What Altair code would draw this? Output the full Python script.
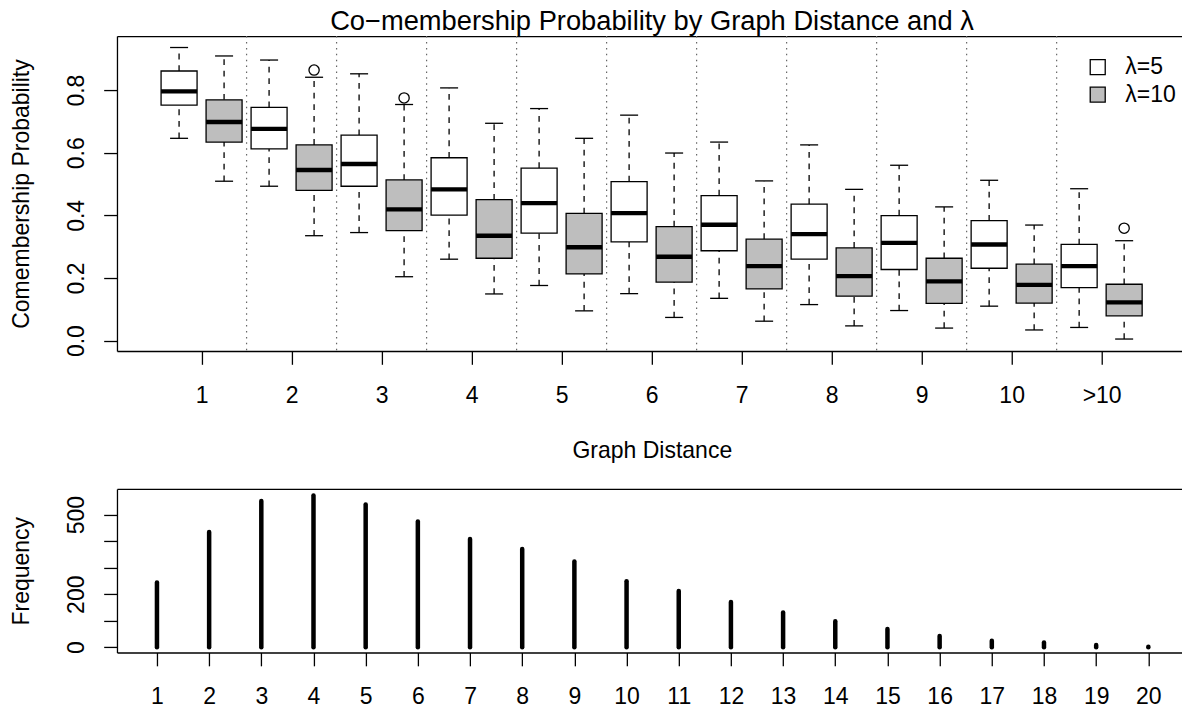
import altair as alt
import pandas as pd

# ---------------- data ----------------
dist_labels = ["1", "2", "3", "4", "5", "6", "7", "8", "9", "10", ">10"]
groups = ["λ=5", "λ=10"]

lam5_low = [0.646, 0.493, 0.345, 0.260, 0.176, 0.150, 0.135, 0.115, 0.096, 0.110, 0.042]
lam5_q1 = [0.752, 0.612, 0.493, 0.401, 0.343, 0.315, 0.287, 0.260, 0.227, 0.231, 0.169]
lam5_med = [0.796, 0.676, 0.564, 0.483, 0.439, 0.407, 0.370, 0.340, 0.312, 0.307, 0.238]
lam5_q3 = [0.861, 0.745, 0.656, 0.584, 0.551, 0.508, 0.463, 0.436, 0.399, 0.383, 0.307]
lam5_high = [0.936, 0.896, 0.852, 0.807, 0.741, 0.720, 0.634, 0.625, 0.560, 0.512, 0.485]

lam10_low = [0.509, 0.335, 0.204, 0.149, 0.095, 0.074, 0.062, 0.047, 0.040, 0.034, 0.005]
lam10_q1 = [0.634, 0.480, 0.351, 0.263, 0.213, 0.187, 0.165, 0.142, 0.119, 0.120, 0.079]
lam10_med = [0.698, 0.545, 0.419, 0.335, 0.298, 0.268, 0.238, 0.206, 0.189, 0.178, 0.122]
lam10_q3 = [0.769, 0.625, 0.513, 0.450, 0.406, 0.364, 0.324, 0.296, 0.263, 0.244, 0.180]
lam10_high = [0.909, 0.841, 0.754, 0.694, 0.646, 0.599, 0.510, 0.483, 0.427, 0.369, 0.319]

outlier_dist = [2, 3, 11]
outlier_value = [0.864, 0.775, 0.359]

freq_dist = list(range(1, 21))
freq_count = [244, 435, 552, 572, 538, 474, 408, 371, 323, 249,
              212, 171, 131, 98, 69, 42, 24, 18, 8, 2]

# ---------------- tables ----------------
rows = []
for i in range(len(dist_labels)):
    p = i + 1
    rows.append(dict(grp=groups[0], pos=p - 0.25, lo=lam5_low[i], q1=lam5_q1[i],
                     med=lam5_med[i], q3=lam5_q3[i], hi=lam5_high[i]))
    rows.append(dict(grp=groups[1], pos=p + 0.25, lo=lam10_low[i], q1=lam10_q1[i],
                     med=lam10_med[i], q3=lam10_q3[i], hi=lam10_high[i]))
box = pd.DataFrame(rows)
box["xl"] = box["pos"] - 0.2
box["xr"] = box["pos"] + 0.2
box["cl"] = box["pos"] - 0.1
box["cr"] = box["pos"] + 0.1

outl = pd.DataFrame({"pos": [d + 0.25 for d in outlier_dist], "val": outlier_value})
seps = pd.DataFrame({"s": [k + 0.5 for k in range(1, len(dist_labels))]})
freq = pd.DataFrame({"d": freq_dist, "n": freq_count, "base": [0] * len(freq_dist)})

# ---------------- layout constants ----------------
W = 1065.3
H1 = 315
H2 = 163.6
FONT = "Liberation Sans"
FS = 23
LW = 1.3

xs_top = alt.Scale(domain=[0.06, 0.06 + W / 90.03], nice=False, zero=False)
ys_top = alt.Scale(domain=[-0.0332, 0.9725], nice=False, zero=False)
xs_bot = alt.Scale(domain=[0.2336, 20.645], nice=False, zero=False)
ys_bot = alt.Scale(domain=[-20, 597], nice=False, zero=False)

frame_top_axis = alt.Axis(orient="top", ticks=False, labels=False, title=None,
                          grid=False, domain=True, minExtent=0, maxExtent=0)

x_axis_top = alt.Axis(orient="bottom", values=list(range(1, 12)), format="d",
                      labelExpr="datum.value == 11 ? '>10' : datum.label",
                      tickSize=13.3, labelPadding=38, labelBaseline="alphabetic",
                      labelFlush=False, labelOverlap=False, grid=False, domain=True,
                      title="Graph Distance", titleY=106.3, titleX=535,
                      titleAlign="center", titleBaseline="alphabetic")

y_axis_top = alt.Axis(orient="left", values=[0, 0.2, 0.4, 0.6, 0.8], format=".1f",
                      tickSize=13.3, labelPadding=20, labelAngle=270,
                      labelAlign="center", labelBaseline="alphabetic",
                      labelFlush=False, labelOverlap=False, grid=False, domain=True,
                      title="Comembership Probability", titleAngle=270,
                      titleX=-88.2, titleY=H1 / 2, titleAlign="center",
                      titleBaseline="alphabetic")

x_axis_bot = alt.Axis(orient="bottom", values=freq_dist, format="d",
                      tickSize=13.3, labelPadding=37.4, labelBaseline="alphabetic",
                      labelFlush=False, labelOverlap=False, grid=False, domain=True,
                      title=None)

y_axis_bot = alt.Axis(orient="left", values=[0, 100, 200, 300, 400, 500], format="d",
                      labelExpr="(datum.value == 0 || datum.value == 200 || datum.value == 500) ? datum.label : ''",
                      tickSize=13.3, labelPadding=20, labelAngle=270,
                      labelAlign="center", labelBaseline="alphabetic",
                      labelFlush=False, labelOverlap=False, grid=False, domain=True,
                      title="Frequency", titleAngle=270,
                      titleX=-88.2, titleY=H2 / 2, titleAlign="center",
                      titleBaseline="alphabetic")

# ---------------- top panel ----------------
sep = alt.Chart(seps).mark_rule(color="#666666", strokeDash=[1.5, 4.4], strokeWidth=1.2).encode(
    x=alt.X("s:Q", scale=xs_top, axis=frame_top_axis)
)

base = alt.Chart(box)

whisk_hi = base.mark_rule(color="black", strokeWidth=LW, strokeDash=[5.8, 5.8]).encode(
    x=alt.X("pos:Q", scale=xs_top, axis=x_axis_top),
    y=alt.Y("q3:Q", scale=ys_top, axis=y_axis_top),
    y2="hi",
)
whisk_lo = base.mark_rule(color="black", strokeWidth=LW, strokeDash=[5.8, 5.8]).encode(
    x=alt.X("pos:Q", scale=xs_top, axis=None),
    y=alt.Y("lo:Q", scale=ys_top, axis=None),
    y2="q1",
)
cap_hi = base.mark_rule(color="black", strokeWidth=LW).encode(
    x=alt.X("cl:Q", scale=xs_top, axis=None), x2="cr",
    y=alt.Y("hi:Q", scale=ys_top, axis=None),
)
cap_lo = base.mark_rule(color="black", strokeWidth=LW).encode(
    x=alt.X("cl:Q", scale=xs_top, axis=None), x2="cr",
    y=alt.Y("lo:Q", scale=ys_top, axis=None),
)
boxes = base.mark_rect(stroke="black", strokeWidth=LW, opacity=1).encode(
    x=alt.X("xl:Q", scale=xs_top, axis=None), x2="xr",
    y=alt.Y("q1:Q", scale=ys_top, axis=None), y2="q3",
    fill=alt.Fill("grp:N",
                  scale=alt.Scale(domain=groups, range=["#FFFFFF", "#BEBEBE"]),
                  legend=alt.Legend(orient="none", legendX=969.5, legendY=19.5,
                                    title=None, symbolType="square", symbolSize=225,
                                    symbolStrokeColor="black", symbolStrokeWidth=LW,
                                    symbolOpacity=1,
                                    labelFontSize=FS, labelFont=FONT, labelColor="black",
                                    labelOffset=16, rowPadding=3.6, padding=0)),
)
medians = base.mark_rule(color="black", strokeWidth=4.4).encode(
    x=alt.X("xl:Q", scale=xs_top, axis=None), x2="xr",
    y=alt.Y("med:Q", scale=ys_top, axis=None),
)
outliers = alt.Chart(outl).mark_point(shape="circle", filled=False, size=105,
                                      color="black", strokeWidth=LW, opacity=1).encode(
    x=alt.X("pos:Q", scale=xs_top, axis=None),
    y=alt.Y("val:Q", scale=ys_top, axis=None),
)

top = alt.layer(sep, whisk_hi, whisk_lo, cap_hi, cap_lo, boxes, medians, outliers).resolve_axis(
    x="independent", y="independent"
).properties(
    width=W, height=H1,
    title=alt.TitleParams(text="Co−membership Probability by Graph Distance and λ",
                          fontSize=27.3, font=FONT, fontWeight="normal", color="black",
                          anchor="middle", baseline="alphabetic", offset=-22, dx=2.5),
)

# ---------------- bottom panel ----------------
bars = alt.Chart(freq).mark_rule(color="black", strokeWidth=4.5, strokeCap="round").encode(
    x=alt.X("d:Q", scale=xs_bot, axis=x_axis_bot),
    y=alt.Y("n:Q", scale=ys_bot, axis=y_axis_bot),
    y2="base",
)
bars_frame = alt.Chart(freq).mark_rule(opacity=0).encode(
    x=alt.X("d:Q", scale=xs_bot, axis=frame_top_axis),
    y=alt.Y("n:Q", scale=ys_bot, axis=None),
    y2="base",
)
bottom = alt.layer(bars, bars_frame).resolve_axis(
    x="independent", y="independent"
).properties(width=W, height=H2)

chart = alt.vconcat(top, bottom, spacing=138, bounds="flush").properties(
    padding={"left": 10, "top": 8, "right": 0, "bottom": 0},
    background="white",
).configure_view(stroke=None).configure_axis(
    labelFont=FONT, titleFont=FONT, labelFontSize=FS, titleFontSize=FS,
    labelColor="black", titleColor="black", titleFontWeight="normal",
    tickColor="black", tickWidth=LW, domainColor="black", domainWidth=LW,
)

chart.save("out.html", embed_options={"renderer": "svg", "actions": False})
